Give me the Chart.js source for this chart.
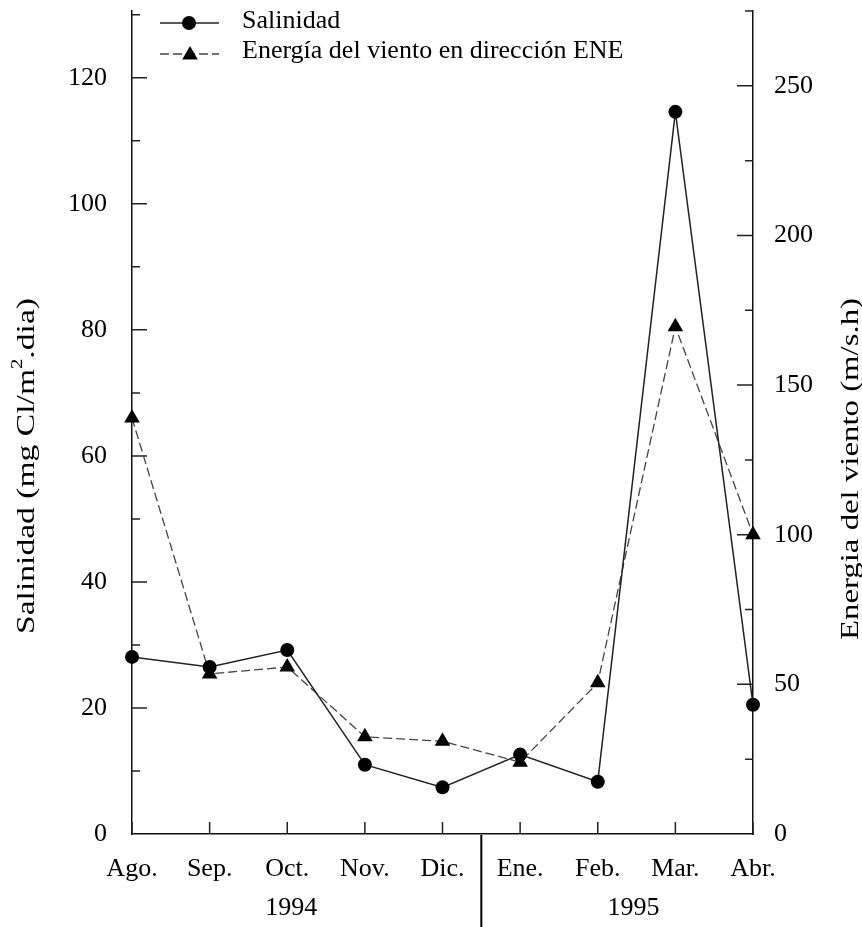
<!DOCTYPE html>
<html>
<head>
<meta charset="utf-8">
<script src="https://cdn.jsdelivr.net/npm/chart.js@4/dist/chart.umd.min.js"></script>
<style>
  html, body { margin: 0; padding: 0; background: #fff; }
  #wrap { width: 862px; height: 927px; }
</style>
</head>
<body>
<div id="wrap"><canvas id="c" width="862" height="927"></canvas></div>
<script>
// Monthly sampling, Aug 1994 – Apr 1995
const months = ['Ago.', 'Sep.', 'Oct.', 'Nov.', 'Dic.', 'Ene.', 'Feb.', 'Mar.', 'Abr.'];
const years = ['1994', '1995'];
// Salinidad (mg Cl/m².dia)
const salinidad = [28.1, 26.5, 29.2, 11.0, 7.4, 12.6, 8.3, 114.6, 20.5];
// Energía del viento en dirección ENE (m/s.h)
const energiaENE = [139, 53.5, 55.8, 32.5, 31, 24, 50.5, 169.5, 100];
// Axis tick steps: [minor step, labelled step]
const salTicks = [10, 20];
const eneTicks = [25, 50];

const FONT = 'Liberation Serif, Times New Roman, serif';
const INK = '#111';

function drawTriangle(ctx, x, y, r) {
  ctx.beginPath();
  ctx.moveTo(x, y - r);
  ctx.lineTo(x + r * Math.sin(Math.PI / 3), y + r / 2);
  ctx.lineTo(x - r * Math.sin(Math.PI / 3), y + r / 2);
  ctx.closePath();
  ctx.fill();
}

// rotated text, reading bottom-to-top, stretched along its baseline to a given length
function drawVerticalTitle(ctx, parts, cx, cy, length) {
  ctx.save();
  let total = 0;
  parts.forEach(p => { ctx.font = p.size + 'px ' + FONT; p.w = ctx.measureText(p.text).width; total += p.w; });
  const sx = length / total;
  ctx.translate(cx, cy);
  ctx.rotate(-Math.PI / 2);
  ctx.scale(sx, 1);
  ctx.textBaseline = 'middle';
  ctx.textAlign = 'left';
  ctx.fillStyle = '#000';
  let x = -total / 2;
  parts.forEach(p => {
    ctx.font = p.size + 'px ' + FONT;
    ctx.fillText(p.text, x, p.dy || 0);
    x += p.w;
  });
  ctx.restore();
}

// inward tick marks: long at labelled values, short in between
function drawTicks(chart) {
  const ctx = chart.ctx;
  const a = chart.chartArea;
  const xs = chart.scales.x, yl = chart.scales.ySal, yr = chart.scales.yEne;
  ctx.save();
  ctx.strokeStyle = '#222';
  ctx.lineWidth = 1.5;
  ctx.beginPath();
  months.forEach((m, i) => {
    const px = xs.getPixelForValue(i);
    ctx.moveTo(px, a.bottom);
    ctx.lineTo(px, a.bottom - 12);
  });
  for (let v = salTicks[0]; v <= yl.max + 1e-9; v += salTicks[0]) {
    const py = yl.getPixelForValue(v);
    const len = v % salTicks[1] === 0 ? 15 : 8;
    ctx.moveTo(a.left, py);
    ctx.lineTo(a.left + len, py);
  }
  for (let v = eneTicks[0]; v <= yr.max + 1e-9; v += eneTicks[0]) {
    const py = yr.getPixelForValue(v);
    const len = v % eneTicks[1] === 0 ? 16 : 8;
    ctx.moveTo(a.right, py);
    ctx.lineTo(a.right - len, py);
  }
  ctx.stroke();
  ctx.restore();
}

const axisMarks = {
  id: 'axisMarks',
  beforeDatasetsDraw(chart) {
    drawTicks(chart);
  },
  afterDraw(chart) {
    const ctx = chart.ctx;
    const a = chart.chartArea;
    const xs = chart.scales.x;
    ctx.save();
    // year separator between Dic. and Ene.
    const sep = (xs.getPixelForValue(4) + xs.getPixelForValue(5)) / 2;
    ctx.strokeStyle = '#000';
    ctx.lineWidth = 2;
    ctx.beginPath();
    ctx.moveTo(sep, a.bottom + 1);
    ctx.lineTo(sep, chart.height);
    ctx.stroke();

    // year labels
    ctx.fillStyle = '#000';
    ctx.font = '26px ' + FONT;
    ctx.textAlign = 'center';
    ctx.textBaseline = 'middle';
    ctx.fillText(years[0], (xs.getPixelForValue(0) + xs.getPixelForValue(4)) / 2 + 4, 908);
    ctx.fillText(years[1], (xs.getPixelForValue(5) + xs.getPixelForValue(8)) / 2 - 3, 908);

    // axis titles
    drawVerticalTitle(ctx, [
      { text: 'Salinidad (mg Cl/m', size: 26 },
      { text: '2', size: 16, dy: -9 },
      { text: '.dia)', size: 26 }
    ], 27, 466, 336);
    drawVerticalTitle(ctx, [
      { text: 'Energia del viento (m/s.h)', size: 26 }
    ], 851, 469, 342);

    // legend
    ctx.strokeStyle = '#222';
    ctx.lineWidth = 1.5;
    ctx.beginPath();
    ctx.moveTo(160, 23); ctx.lineTo(219, 23);
    ctx.stroke();
    ctx.fillStyle = '#000';
    ctx.beginPath();
    ctx.arc(189, 23, 7, 0, Math.PI * 2);
    ctx.fill();

    ctx.strokeStyle = '#444';
    ctx.lineWidth = 1.3;
    ctx.setLineDash([9, 4]);
    ctx.beginPath();
    ctx.moveTo(160, 54); ctx.lineTo(219, 54);
    ctx.stroke();
    ctx.setLineDash([]);
    drawTriangle(ctx, 190, 55, 9);

    ctx.textAlign = 'left';
    ctx.textBaseline = 'alphabetic';
    ctx.font = '26px ' + FONT;
    ctx.fillText(chart.data.datasets[0].label, 242, 28);
    ctx.fillText(chart.data.datasets[1].label, 242, 58);
    ctx.restore();
  }
};

const tickFont = { family: FONT, size: 26 };
const noGrid = { display: false, drawTicks: false, drawOnChartArea: false, tickLength: 0 };

// keep the plot box fixed: no extra room reserved around tick labels
function fixVertical(width) {
  return s => { s.width = width; s.paddingTop = 0; s.paddingBottom = 0; };
}

new Chart(document.getElementById('c').getContext('2d'), {
  type: 'line',
  data: {
    labels: months,
    datasets: [
      {
        label: 'Salinidad',
        data: salinidad,
        yAxisID: 'ySal',
        borderColor: '#222',
        borderWidth: 1.5,
        tension: 0,
        pointStyle: 'circle',
        pointRadius: 7,
        pointBackgroundColor: '#000',
        pointBorderColor: '#000',
        pointBorderWidth: 0,
        clip: false
      },
      {
        label: 'Energía del viento en dirección ENE',
        data: energiaENE,
        yAxisID: 'yEne',
        borderColor: '#444',
        borderWidth: 1.3,
        borderDash: [9, 4],
        tension: 0,
        pointStyle: 'triangle',
        pointRadius: 9,
        pointBackgroundColor: '#000',
        pointBorderColor: '#000',
        pointBorderWidth: 0,
        clip: false
      }
    ]
  },
  options: {
    responsive: false,
    animation: false,
    events: [],
    layout: { padding: { top: 11, left: 0, right: 0, bottom: 0 }, autoPadding: false },
    plugins: { legend: { display: false }, tooltip: { enabled: false }, title: { display: false } },
    scales: {
      x: {
        type: 'category',
        offset: false,
        grid: noGrid,
        border: { display: true, color: INK, width: 1.5 },
        ticks: { color: '#000', font: tickFont, padding: 20, maxRotation: 0, autoSkip: false },
        afterFit(s) { s.height = 93; s.paddingLeft = 0; s.paddingRight = 0; }
      },
      ySal: {
        type: 'linear',
        position: 'left',
        min: 0,
        max: 130.6,
        grid: noGrid,
        border: { display: true, color: INK, width: 1.5 },
        ticks: {
          stepSize: salTicks[1],
          includeBounds: false,
          autoSkip: false,
          color: '#000',
          font: tickFont,
          padding: 25
        },
        afterFit: fixVertical(132)
      },
      yEne: {
        type: 'linear',
        position: 'right',
        min: 0,
        max: 275,
        grid: noGrid,
        border: { display: true, color: INK, width: 1.5 },
        ticks: {
          stepSize: eneTicks[1],
          includeBounds: false,
          autoSkip: false,
          color: '#000',
          font: tickFont,
          padding: 21
        },
        afterFit: fixVertical(109)
      }
    }
  },
  plugins: [axisMarks]
});
</script>
</body>
</html>
